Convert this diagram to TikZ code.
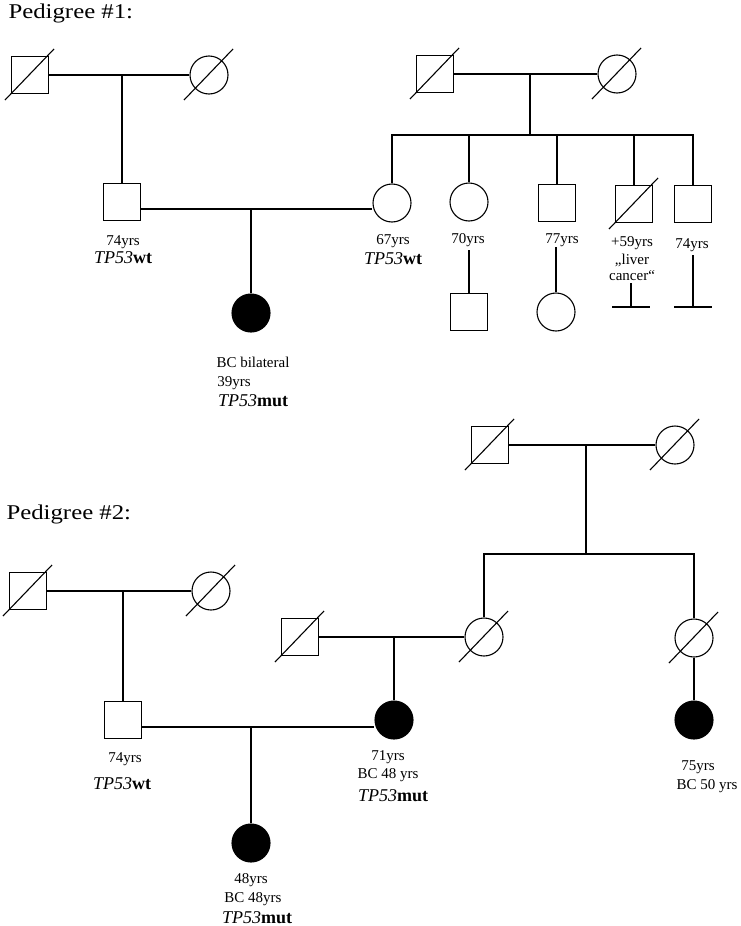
\documentclass[tikz,border=0pt]{standalone}
\usepackage{graphicx}
\usepackage{fontspec}
\setmainfont{Liberation Serif}
\usetikzlibrary{calc}
\newcommand\deceasedmark[1]{\draw ($(#1.center)+(-25,25)$) -- ($(#1.center)+(24,-26)$);}
\newcommand\gene[1]{{\itshape TP53}\textbf{#1}}
\begin{document}
\begin{tikzpicture}[x=1pt,y=-1pt,
  line width=1.1pt,
  male/.style={draw, rectangle, minimum size=37pt, inner sep=0pt},
  female/.style={draw, circle, minimum size=38pt, inner sep=0pt},
  affected/.style={fill=black},
  lbl/.style={font=\fontsize{15}{17}\selectfont, inner sep=0pt, anchor=base},
  genelbl/.style={font=\fontsize{18}{20}\selectfont, inner sep=0pt, anchor=base},
  titlelbl/.style={font=\fontsize{21}{24}\selectfont, inner sep=0pt, anchor=base west},
]
\useasboundingbox (0,0) rectangle (740,926);

% ---------------- Pedigree 1 ----------------
\node[titlelbl] (t1) at (8,18) {\scalebox{1.18}[1]{Pedigree \#1:}};

\node[male] (g1f) at (30,75) {};
\node[female] (g1m) at (209,75) {};
\draw (g1f) -- (g1m);
\coordinate (u1) at (122,75);
\node[male] (f1) at (122,202) {};
\draw (u1) -- (f1);

\node[male] (g2f) at (435,74) {};
\node[female] (g2m) at (617,74) {};
\draw (g2f) -- (g2m);
\coordinate (u2) at (530,74);
\coordinate (sib1) at (530,135);
\draw (u2) -- (sib1);

\node[female] (m1) at (392,203) {};
\node[female] (s2) at (469,202) {};
\node[male] (s3) at (557,203) {};
\node[male] (s4) at (634,204) {};
\node[male] (s5) at (693,204) {};
\draw (m1.north) -- (m1.north |- sib1) -- (s5.north |- sib1) -- (s5.north);
\foreach \n in {s2,s3,s4} \draw (\n.north |- sib1) -- (\n.north);

\coordinate (mar1) at (251,209);
\draw (f1.east |- mar1) -- (m1.west |- mar1);
\node[female,affected] (p1) at (251,313) {};
\draw (mar1) -- (p1);

\coordinate (s2d) at (469,250);
\node[male] (c1) at (469,312) {};
\draw (s2d) -- (c1);
\coordinate (s3d) at (556,247);
\node[female] (c2) at (556,312) {};
\draw (s3d) -- (c2);
\coordinate (s4d) at (631,283);
\coordinate (s4b) at (631,307);
\draw (s4d) -- (s4b);
\draw ($(s4b)+(-19,0)$) -- ($(s4b)+(19,0)$);
\coordinate (s5d) at (693,255);
\coordinate (s5b) at (693,307);
\draw (s5d) -- (s5b);
\draw ($(s5b)+(-19,0)$) -- ($(s5b)+(19,0)$);

\foreach \n in {g1f,g1m,g2f,g2m,s4} {\deceasedmark{\n}}

% labels P1
\node[lbl] (f1a) at (123,245) {74yrs};
\node[genelbl] (f1g) at (123,263) {\gene{wt}};
\node[lbl] (m1a) at (393,244) {67yrs};
\node[genelbl] (m1g) at (393,264) {\gene{wt}};
\node[lbl] (s2a) at (468,243) {70yrs};
\node[lbl] (s3a) at (562,243) {77yrs};
\node[lbl] (s4a) at (632,246) {+59yrs};
\node[lbl] (s4b1) at (632,264) {„liver};
\node[lbl] (s4b2) at (632,280) {cancer“};
\node[lbl] (s5a) at (692,248) {74yrs};
\node[lbl] (p1a) at (253,367) {BC bilateral};
\node[lbl] (p1b) at (234,386) {39yrs};
\node[genelbl] (p1g) at (253,406) {\gene{mut}};

% ---------------- Pedigree 2 ----------------
\node[titlelbl] (t2) at (6,519) {\scalebox{1.18}[1]{Pedigree \#2:}};

\node[male] (h1f) at (28,591) {};
\node[female] (h1m) at (211,591) {};
\draw (h1f) -- (h1m);
\coordinate (u3) at (123,591);
\node[male] (f2) at (123,720) {};
\draw (u3) -- (f2);

\node[male] (h2f) at (490,445) {};
\node[female] (h2m) at (675,445) {};
\draw (h2f) -- (h2m);
\coordinate (u4) at (586,445);
\coordinate (sib2) at (586,554);
\draw (u4) -- (sib2);

\node[male] (h3) at (300,637) {};
\node[female] (a1) at (484,637) {};
\node[female] (a2) at (694,638) {};
\draw (a1.north) -- (a1.north |- sib2) -- (a2.north |- sib2) -- (a2.north);
\draw (h3) -- (a1);
\coordinate (u5) at (394,637);
\node[female,affected] (m2) at (394,720) {};
\draw (u5) -- (m2);
\node[female,affected] (d2) at (694,720) {};
\draw (a2) -- (d2);

\coordinate (mar2) at (251,727);
\draw (f2.east |- mar2) -- (m2.west |- mar2);
\node[female,affected] (p2) at (251,843) {};
\draw (mar2) -- (p2);

\foreach \n in {h1f,h1m,h2f,h2m,h3,a1,a2} {\deceasedmark{\n}}

% labels P2
\node[lbl] (f2a) at (125,762) {74yrs};
\node[genelbl] (f2g) at (122,789) {\gene{wt}};
\node[lbl] (m2a) at (388,760) {71yrs};
\node[lbl] (m2b) at (388,778) {BC 48 yrs};
\node[genelbl] (m2g) at (393,801) {\gene{mut}};
\node[lbl] (d2a) at (698,770) {75yrs};
\node[lbl] (d2b) at (707,789) {BC 50 yrs};
\node[lbl] (p2a) at (251,883) {48yrs};
\node[lbl] (p2b) at (253,902) {BC 48yrs};
\node[genelbl] (p2g) at (257,923) {\gene{mut}};
\end{tikzpicture}
\end{document}
